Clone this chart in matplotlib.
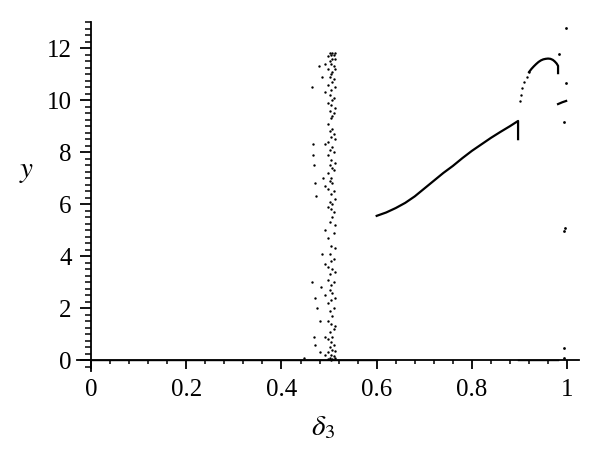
import numpy as np
import matplotlib
matplotlib.use("Agg")
import matplotlib.pyplot as plt
from matplotlib.ticker import MultipleLocator

plt.rcParams["font.family"] = ["Liberation Serif", "DejaVu Serif"]
plt.rcParams["mathtext.fontset"] = "stix"

# chaotic band around delta3 ~ 0.5 (columns of iterates)
band_cols = [0.492, 0.497, 0.501, 0.504, 0.507, 0.510, 0.513]
band_vals = [
    [11.4, 10.3, 8.3, 6.7, 5.0, 3.7, 2.5, 0.9, 0.2],
    [11.7, 11.2, 10.6, 9.9, 9.1, 8.4, 7.9, 7.2, 6.6, 5.9, 4.7, 3.6, 3.1, 2.2, 1.5, 0.8, 0.3, 0.05],
    [11.8, 11.5, 10.9, 10.2, 9.6, 8.8, 8.1, 7.5, 6.9, 6.1, 5.3, 4.1, 3.3, 2.7, 1.9, 1.1, 0.5, 0.1],
    [11.75, 11.4, 11.0, 10.4, 9.8, 9.3, 8.6, 7.7, 7.0, 6.4, 5.8, 4.4, 3.8, 2.9, 2.3, 1.4, 0.7, 0.2, 0.02],
    [11.8, 11.6, 11.1, 10.7, 10.0, 9.4, 8.9, 8.2, 7.4, 6.8, 6.0, 5.5, 3.5, 2.6, 1.7, 0.9, 0.4, 0.06],
    [11.75, 11.3, 10.8, 10.1, 9.5, 8.7, 8.0, 7.3, 6.5, 5.7, 4.9, 3.9, 3.0, 2.0, 1.2, 0.6, 0.15],
    [11.8, 11.6, 11.2, 10.5, 9.7, 8.5, 7.6, 6.2, 5.2, 4.3, 3.4, 2.4, 1.3, 0.35, 0.1],
]
sparse_x = [0.447, 0.465, 0.467, 0.466, 0.468, 0.470, 0.472, 0.465, 0.470, 0.475, 0.480,
            0.468, 0.470, 0.480, 0.485, 0.478, 0.488, 0.486, 0.483]
sparse_y = [0.1, 10.5, 8.3, 7.9, 7.5, 6.8, 6.3, 3.0, 2.4, 2.0, 1.5,
            0.9, 0.6, 0.3, 10.9, 11.3, 7.0, 4.1, 2.8]

# period-one branch
curve_x = [0.60, 0.62, 0.64, 0.66, 0.68, 0.70, 0.72, 0.74, 0.76, 0.78,
           0.80, 0.82, 0.84, 0.86, 0.88, 0.897, 0.897]
curve_y = [5.55, 5.68, 5.85, 6.05, 6.3, 6.6, 6.9, 7.2, 7.47, 7.77,
           8.05, 8.3, 8.55, 8.78, 9.0, 9.2, 8.5]

# arc after the jump
arc_dots_x = [0.901, 0.903, 0.906, 0.910, 0.915, 0.920]
arc_dots_y = [9.96, 10.2, 10.45, 10.7, 10.9, 11.08]
arc_x = [0.920, 0.925, 0.930, 0.935, 0.940, 0.945, 0.950, 0.955, 0.960,
         0.965, 0.970, 0.974, 0.978, 0.981, 0.981]
arc_y = [11.08, 11.2, 11.3, 11.39, 11.47, 11.53, 11.57, 11.59, 11.6,
         11.59, 11.55, 11.49, 11.41, 11.32, 11.04]

seg_x = [0.981, 0.990, 0.998]
seg_y = [9.85, 9.92, 9.97]

edge_x = [0.983, 0.997, 0.997, 0.993, 0.995, 0.994, 0.993, 0.993]
edge_y = [11.77, 12.78, 10.65, 9.15, 5.1, 4.95, 0.46, 0.08]

zero_x = [0.0, 0.60]
zero2_x = [0.897, 0.98]

fig = plt.figure(figsize=(6, 4.62), dpi=100)
ax = fig.add_axes([0.128, 0.198, 0.837, 0.754])

ax.plot(zero_x, [0, 0], color="k", lw=1.0)
ax.plot(zero2_x, [0, 0], color="k", lw=1.0)
for cx, vals in zip(band_cols, band_vals):
    ax.scatter([cx] * len(vals), vals, s=3, color="k", linewidths=0)
ax.scatter(sparse_x, sparse_y, s=3, color="k", linewidths=0)
ax.plot(curve_x, curve_y, color="k", lw=1.6)
ax.scatter(arc_dots_x, arc_dots_y, s=3, color="k", linewidths=0)
ax.plot(arc_x, arc_y, color="k", lw=1.6)
ax.plot(seg_x, seg_y, color="k", lw=1.6)
ax.scatter(edge_x, edge_y, s=4, color="k", linewidths=0)

ax.set_xlim(-0.03, 1.025)
ax.set_ylim(-0.4, 13)
for s in ["top", "right"]:
    ax.spines[s].set_visible(False)
ax.spines["left"].set_position(("data", 0))
ax.spines["bottom"].set_position(("data", 0))
ax.spines["left"].set_bounds(-0.4, 13)
ax.spines["bottom"].set_bounds(-0.03, 1.025)
ax.spines["left"].set_linewidth(1.3)
ax.spines["bottom"].set_linewidth(1.3)

ax.xaxis.set_minor_locator(MultipleLocator(0.04))
ax.yaxis.set_minor_locator(MultipleLocator(0.25))
ax.set_xticks([0, 0.2, 0.4, 0.6, 0.8, 1.0])
ax.set_xticklabels(["0", "0.2", "0.4", "0.6", "0.8", "1"])
ax.set_yticks([0, 2, 4, 6, 8, 10, 12])
ax.set_yticklabels(["0", "2", "4", "6", "8", "10", "12"])
ax.tick_params(axis="x", which="major", direction="out", length=6.5, width=1.3, pad=7, labelsize=18)
ax.tick_params(axis="x", which="minor", direction="out", length=3, width=1.1)
ax.tick_params(axis="y", which="major", direction="out", length=8, width=1.3, pad=6, labelsize=18)
ax.tick_params(axis="y", which="minor", direction="out", length=4, width=1.1)

fig.text(27 / 600, 1 - 172 / 462, r"$y$", fontsize=21, ha="center", va="center")
fig.text(323 / 600, 1 - 428 / 462, r"$\delta_3$", fontsize=21, ha="center", va="center")

fig.savefig("out.png", dpi=100)
